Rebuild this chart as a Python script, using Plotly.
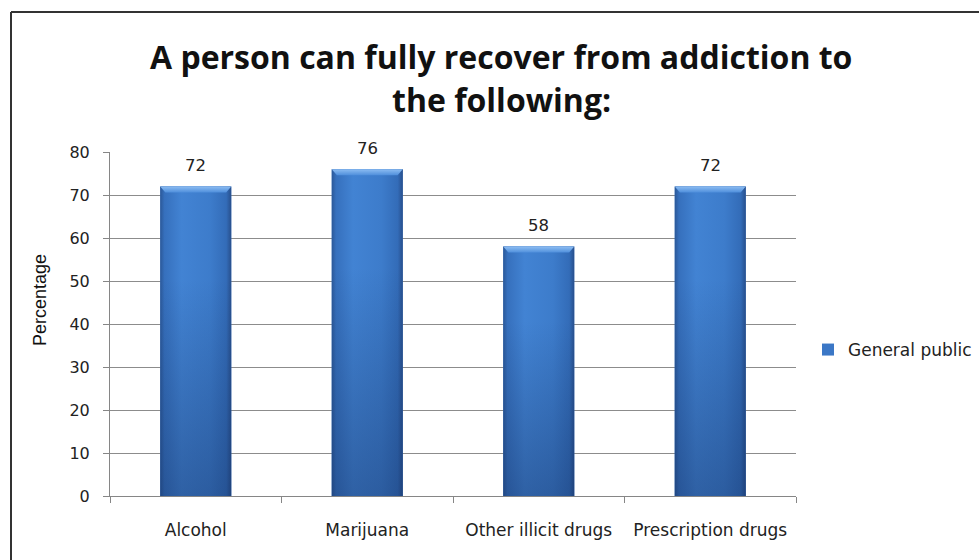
import plotly.graph_objects as go

# Survey data
categories = ["Alcohol", "Marijuana", "Other illicit drugs", "Prescription drugs"]
values = [72, 76, 58, 72]
series_name = "General public"
title_lines = ["A person can fully recover from addiction to", "the following:"]
y_ticks = [0, 10, 20, 30, 40, 50, 60, 70, 80]

# Canvas and plot-area geometry (pixels)
W, H = 979, 560
ML, MR, MT, MB = 110, 183, 152, 64
PW, PH = W - ML - MR, H - MT - MB
BAR_FRAC = 0.414          # bar width as fraction of category slot
HW = BAR_FRAC / 2

TEXT_FONT = "DejaVu Sans"


def px_x(p):
    return (p - ML) / PW


def px_y(p):
    return (H - MB - p) / PH


fig = go.Figure()

# Base bars (also provide the legend entry)
fig.add_trace(go.Bar(
    x=categories, y=values, name=series_name,
    marker=dict(color="#3b77c6", line=dict(width=0)),
    showlegend=True, hoverinfo="x+y",
))

# Shaded overlays drawn on a hidden numeric axis aligned with the categories
bevel_h = 1.4
bevel_d = 0.03
for i, v in enumerate(values):
    xl, xr = i - HW, i + HW
    # body with horizontal shading
    fig.add_trace(go.Scatter(
        x=[xl, xr, xr, xl, xl], y=[0, 0, v, v, 0], xaxis="x2",
        mode="lines", line=dict(width=0), fill="toself",
        fillgradient=dict(type="horizontal", start=xl, stop=xr, colorscale=[
            [0.0, "#2b5898"], [0.06, "#3670bd"], [0.3, "#4283d3"],
            [0.7, "#3d7ccb"], [0.93, "#336cb8"], [1.0, "#284f8c"]]),
        showlegend=False, hoverinfo="skip",
    ))
    # darkening toward the base
    fig.add_trace(go.Scatter(
        x=[xl, xr, xr, xl, xl], y=[0, 0, v, v, 0], xaxis="x2",
        mode="lines", line=dict(width=0), fill="toself",
        fillgradient=dict(type="vertical", start=0, stop=v, colorscale=[
            [0.0, "rgba(18,45,95,0.40)"], [0.7, "rgba(18,45,95,0.0)"],
            [1.0, "rgba(18,45,95,0.0)"]]),
        showlegend=False, hoverinfo="skip",
    ))
    # light bevel on top
    fig.add_trace(go.Scatter(
        x=[xl, xr, xr - bevel_d, xl + bevel_d, xl],
        y=[v, v, v - bevel_h, v - bevel_h, v], xaxis="x2",
        mode="lines", line=dict(width=0), fill="toself",
        fillgradient=dict(type="vertical", start=v - bevel_h, stop=v, colorscale=[
            [0.0, "#4f8fdc"], [1.0, "#8dbdf2"]]),
        showlegend=False, hoverinfo="skip",
    ))

# Value labels above bars
annotations = []
for c, v in zip(categories, values):
    annotations.append(dict(
        x=c, y=v, xref="x", yref="y", text=str(v), showarrow=False,
        yshift=21, font=dict(family=TEXT_FONT, size=16.5, color="#222222"),
    ))

# Two-line title
for line, ypx in zip(title_lines, [57, 100]):
    annotations.append(dict(
        x=px_x(501), y=px_y(ypx), xref="paper", yref="paper", text=line,
        showarrow=False, xanchor="center", yanchor="middle",
        font=dict(family="Open Sans", size=32, color="#111111", weight="bold"),
    ))

# Y-axis title
annotations.append(dict(
    x=px_x(40), y=px_y(300), xref="paper", yref="paper", text="Percentage",
    showarrow=False, textangle=-90, xanchor="center", yanchor="middle",
    font=dict(family="Liberation Sans", size=18, color="#111111"),
))

# Outer frame (top and left edges visible)
shapes = [
    dict(type="line", xref="paper", yref="paper",
         x0=px_x(11), x1=px_x(W + 5), y0=px_y(12), y1=px_y(12),
         line=dict(color="#333333", width=2)),
    dict(type="line", xref="paper", yref="paper",
         x0=px_x(11), x1=px_x(11), y0=px_y(12), y1=px_y(H + 5),
         line=dict(color="#333333", width=2)),
]

fig.update_layout(
    width=W, height=H,
    margin=dict(l=ML, r=MR, t=MT, b=MB, pad=0, autoexpand=False),
    paper_bgcolor="white", plot_bgcolor="white",
    bargap=1 - BAR_FRAC,
    showlegend=True,
    legend=dict(
        x=px_x(808), y=px_y(350), xanchor="left", yanchor="middle",
        font=dict(family=TEXT_FONT, size=17, color="#222222"),
        itemwidth=30, bgcolor="rgba(0,0,0,0)",
    ),
    xaxis=dict(
        type="category", range=[-0.5, 3.5], tickson="boundaries",
        ticks="outside", ticklen=6, tickcolor="#868686",
        showline=True, linecolor="#868686", linewidth=1,
        showgrid=False, zeroline=False,
        tickfont=dict(family=TEXT_FONT, size=17, color="#222222"),
        ticklabelstandoff=19,
    ),
    xaxis2=dict(
        overlaying="x", range=[-0.5, 3.5], visible=False,
        showgrid=False, zeroline=False,
    ),
    yaxis=dict(
        range=[0, 80], tickvals=y_ticks,
        ticks="outside", ticklen=6, tickcolor="#868686",
        showline=True, linecolor="#868686", linewidth=1,
        showgrid=True, gridcolor="#8c8c8c", gridwidth=1,
        zeroline=False,
        tickfont=dict(family=TEXT_FONT, size=16, color="#222222"),
        ticklabelstandoff=10,
    ),
    annotations=annotations,
    shapes=shapes,
)

fig.write_html("out.html")
